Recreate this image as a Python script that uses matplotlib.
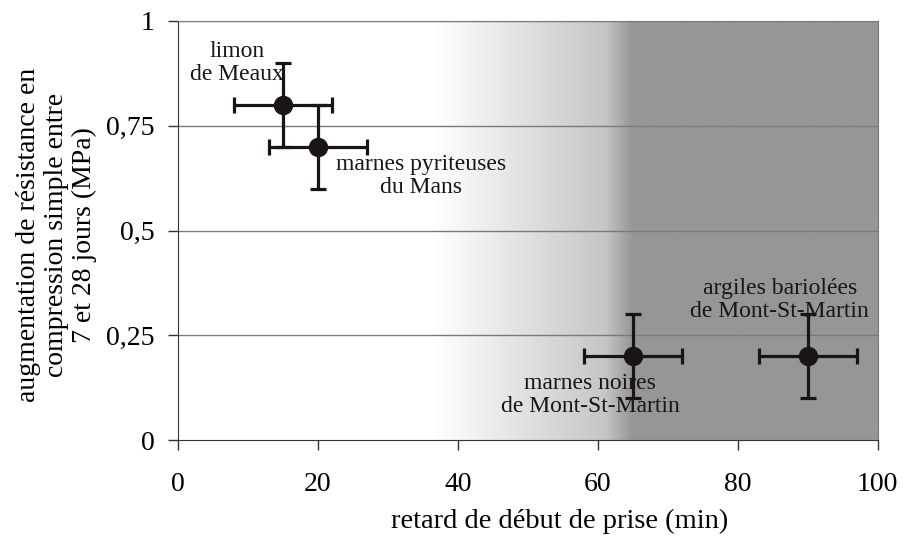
import matplotlib.pyplot as plt
import numpy as np

plt.rcParams['font.family'] = ['Liberation Serif', 'DejaVu Serif']

# data
x = [15, 20, 65, 90]
y = [0.8, 0.7, 0.2, 0.2]
xerr = [7, 7, 7, 7]
yerr = [0.1, 0.1, 0.1, 0.1]
labels = ['limon\nde Meaux', 'marnes pyriteuses\ndu Mans',
          'marnes noires\nde Mont-St-Martin', 'argiles bariolées\nde Mont-St-Martin']
label_pos = [(8.4, 0.90), (34.7, 0.63), (58.9, 0.107), (86, 0.334)]
xticks = [0, 20, 40, 60, 80, 100]
yticks = [0, 0.25, 0.5, 0.75, 1]
yticklabels = ['0', '0,25', '0,5', '0,75', '1']

fig = plt.figure(figsize=(9.04, 5.38), dpi=100)
ax = fig.add_axes([0.197, 0.182, 0.774, 0.779])

# background shading: white -> light grey -> darker grey
gx = np.linspace(0, 100, 1001)
gv = np.interp(gx, [0, 36.7, 61, 65, 100], [255, 255, 198, 150, 150]) / 255.0
img = np.stack([gv, gv, gv], axis=-1)[np.newaxis, :, :]
ax.imshow(img, extent=[0, 100, 0, 1], aspect='auto', zorder=0, interpolation='bilinear')

for yy in [0.25, 0.5, 0.75, 1.0]:
    ax.axhline(yy, color='#7a7a7a', lw=1.0, zorder=1)

ax.errorbar(x, y, xerr=xerr, yerr=yerr, fmt='o', color='#1a1414', ms=13,
            elinewidth=2.3, capsize=6, capthick=2.3, zorder=3)

for lab, (lx, ly) in zip(labels, label_pos):
    ax.text(lx, ly, lab, ha='center', va='center', fontsize=17, color='#1a1414',
            linespacing=1.1, zorder=4)

ax.set_xlim(0, 100)
ax.set_ylim(0, 1)
ax.set_xticks(xticks)
ax.set_yticks(yticks)
ax.set_yticklabels(yticklabels)
ax.tick_params(direction='out', length=7, width=1, labelsize=20, color='#333333')
ax.tick_params(axis='x', pad=16)
ax.tick_params(axis='y', pad=10)

ax.spines['top'].set_color('#7a7a7a')
ax.spines['right'].set_color('#7a7a7a')
ax.spines['left'].set_color('#333333')
ax.spines['bottom'].set_color('#333333')

ax.set_xlabel('retard de début de prise (min)', fontsize=20.5)
ax.xaxis.set_label_coords(0.546, -0.163)
ax.set_ylabel('augmentation de résistance en\ncompression simple entre\n7 et 28 jours (MPa)',
              fontsize=20, linespacing=1.15)
ax.yaxis.set_label_coords(-0.116, 0.49)

fig.savefig('out.png', dpi=100)
